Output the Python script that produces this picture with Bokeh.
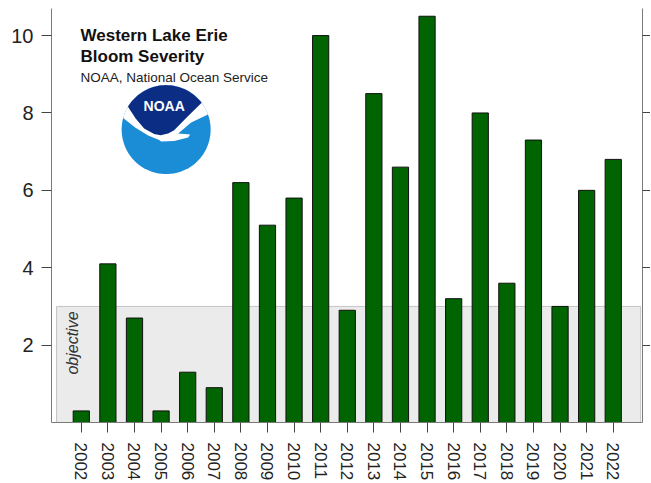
import math
from bokeh.plotting import figure
from bokeh.models import LinearAxis, Range1d, FixedTicker
from bokeh.core.properties import value
from bokeh.embed import file_html
from bokeh.resources import INLINE

# ---- data ----
years = ["2002", "2003", "2004", "2005", "2006", "2007", "2008", "2009", "2010", "2011",
         "2012", "2013", "2014", "2015", "2016", "2017", "2018", "2019", "2020", "2021", "2022"]
severity = [0.3, 4.1, 2.7, 0.3, 1.3, 0.9, 6.2, 5.1, 5.8, 10.0,
            2.9, 8.5, 6.6, 10.5, 3.2, 8.0, 3.6, 7.3, 3.0, 6.0, 6.8]
y_ticks = [2, 4, 6, 8, 10]
objective = 3
title_lines = ["Western Lake Erie", "Bloom Severity"]
subtitle = "NOAA, National Ocean Service"

# ---- layout ----
FW, FH = 591, 414
X0, X1 = -1.12, 21.1
Y0, Y1 = 0, 10.7
SX = FW / (X1 - X0)
SY = FH / (Y1 - Y0)
FONT = "Liberation Sans"

p = figure(frame_width=FW, frame_height=FH,
           x_range=Range1d(X0, X1), y_range=Range1d(Y0, Y1),
           output_backend="svg", toolbar_location=None,
           min_border_left=51, min_border_right=1,
           min_border_top=8, min_border_bottom=0)
p.outline_line_color = None
p.xgrid.visible = False
p.ygrid.visible = False
p.background_fill_color = "white"

idx = list(range(len(years)))

# x axis
xa = p.xaxis[0]
xa.ticker = FixedTicker(ticks=idx)
xa.major_label_overrides = {i: y for i, y in zip(idx, years)}
xa.major_label_orientation = "vertical"
xa.axis_line_color = "#7a7a7a"
xa.major_tick_line_color = "#444444"
xa.major_tick_out = 10
xa.major_tick_in = 0
xa.minor_tick_out = 0
xa.minor_tick_in = 0
xa.major_label_standoff = 10
xa.major_label_text_font = FONT
xa.major_label_text_font_size = "17px"
xa.major_label_text_color = "#222222"

# left y axis
ya = p.yaxis[0]
ya.ticker = FixedTicker(ticks=y_ticks)
ya.axis_line_color = "#7a7a7a"
ya.major_tick_line_color = "#444444"
ya.major_tick_out = 10
ya.major_tick_in = 0
ya.minor_tick_out = 0
ya.minor_tick_in = 0
ya.major_label_standoff = 8
ya.major_label_text_font = FONT
ya.major_label_text_font_size = "20px"
ya.major_label_text_color = "#222222"

# right y axis (ticks only)
ra = LinearAxis(ticker=FixedTicker(ticks=y_ticks))
ra.major_label_overrides = {t: "" for t in y_ticks}
ra.major_label_text_font_size = "0px"
ra.major_label_standoff = 0
ra.axis_line_color = "#7a7a7a"
ra.major_tick_line_color = "#444444"
ra.major_tick_out = 8
ra.major_tick_in = 0
ra.minor_tick_out = 0
ra.minor_tick_in = 0
p.add_layout(ra, "right")

# objective box
p.quad(left=[X0 + 0.19], right=[X1 - 0.07], bottom=[0], top=[objective],
       fill_color="#ebebeb", line_color="#c4c4c4", line_width=1)
p.text(x=[X0 + 0.19], y=[objective], text=["objective"], angle=math.pi / 2,
       x_offset=7, y_offset=5, text_align="right", text_baseline="top",
       text_font=value(FONT), text_font_style="italic", text_font_size="16px",
       text_color="#333333")

# bars
p.vbar(x=idx, top=severity, width=0.61, bottom=0,
       fill_color="#006400", line_color="#111111", line_width=1)

# titles
p.text(x=[-0.03, -0.03], y=[10.0, 9.47], text=title_lines,
       text_font=value(FONT), text_font_style="bold", text_font_size="17px",
       text_color="#111111", text_align="left", text_baseline="alphabetic")
p.text(x=[-0.03], y=[8.92], text=[subtitle],
       text_font=value(FONT), text_font_size="13.5px",
       text_color="#222222", text_align="left", text_baseline="alphabetic")

# NOAA logo (decoration), defined in pixel offsets around its centre
CX, CY, R = 3.19, 7.57, 44.5


def to_data(pts):
    return [CX + dx / SX for dx, dy in pts], [CY - dy / SY for dx, dy in pts]


def arc(a0, a1, n=40):
    return [(R * math.cos(math.radians(a0 + (a1 - a0) * k / n)),
             -R * math.sin(math.radians(a0 + (a1 - a0) * k / n))) for k in range(n + 1)]


circle_pts = arc(0, 360, 90)
white_pts = arc(20, 165) + [(-31, -2), (-18, 6), (-7, 10.5), (-5, 12), (8, 11.5),
                            (22, 8), (24, 5), (12, 4), (25, -7)]
dark_pts = arc(37, 149) + [(-30.5, -11), (-22, -1), (-12, 4.5), (-5.5, 5.7),
                           (2, 4), (8, 0.7), (21, -12.7)]

for pts, col in [(circle_pts, "#1b8dd6"), (white_pts, "white"), (dark_pts, "#0b2d84")]:
    xs, ys = to_data(pts)
    p.patch(x=xs, y=ys, fill_color=col, line_color=None)

lx, ly = to_data([(-2, -23.5)])
p.text(x=lx, y=ly, text=["NOAA"], text_font=value(FONT), text_font_style="bold",
       text_font_size="14px", text_color="white", text_align="center",
       text_baseline="middle")

open("out.html", "w").write(file_html(p, INLINE))
